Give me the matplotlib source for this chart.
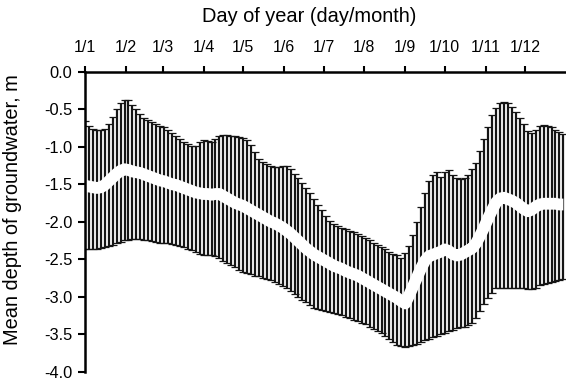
import numpy as np
import matplotlib
matplotlib.use("Agg")
import matplotlib.pyplot as plt
from matplotlib.ticker import FuncFormatter

plt.rcParams['font.family'] = ['Liberation Sans', 'DejaVu Sans']

# Day of year of each error bar (every 3rd day)
days = list(range(1, 365, 3))

upper = [-0.66, -0.72, -0.76, -0.78, -0.78, -0.76, -0.70, -0.60, -0.50, -0.42,
         -0.38, -0.38, -0.44, -0.50, -0.56, -0.61, -0.64, -0.67, -0.70, -0.72,
         -0.74, -0.78, -0.82, -0.86, -0.89, -0.93, -0.96, -0.99, -0.99, -0.94,
         -0.91, -0.92, -0.93, -0.90, -0.86, -0.84, -0.84, -0.85, -0.86, -0.87,
         -0.88, -0.91, -0.97, -1.07, -1.16, -1.20, -1.23, -1.25, -1.27, -1.27,
         -1.26, -1.26, -1.30, -1.36, -1.42, -1.48, -1.55, -1.62, -1.70, -1.78,
         -1.85, -1.92, -1.99, -2.03, -2.06, -2.08, -2.10, -2.12, -2.14, -2.16,
         -2.19, -2.22, -2.25, -2.28, -2.31, -2.34, -2.37, -2.40, -2.43, -2.45,
         -2.48, -2.42, -2.33, -2.18, -2.00, -1.80, -1.62, -1.46, -1.38, -1.33,
         -1.40, -1.34, -1.31, -1.37, -1.42, -1.43, -1.42, -1.38, -1.30, -1.21,
         -1.06, -0.90, -0.74, -0.57, -0.48, -0.42, -0.40, -0.42, -0.47, -0.54,
         -0.62, -0.70, -0.79, -0.82, -0.77, -0.72, -0.71, -0.72, -0.74, -0.77,
         -0.80, -0.83]

mean = [-1.52, -1.53, -1.54, -1.55, -1.54, -1.51, -1.46, -1.41, -1.36, -1.32,
        -1.30, -1.31, -1.33, -1.34, -1.35, -1.37, -1.39, -1.41, -1.43, -1.45,
        -1.46, -1.48, -1.50, -1.51, -1.53, -1.55, -1.57, -1.59, -1.61, -1.62,
        -1.63, -1.63, -1.64, -1.63, -1.63, -1.66, -1.69, -1.72, -1.75, -1.77,
        -1.79, -1.82, -1.85, -1.88, -1.91, -1.94, -1.97, -2.00, -2.02, -2.05,
        -2.08, -2.12, -2.16, -2.21, -2.26, -2.31, -2.36, -2.40, -2.44, -2.47,
        -2.50, -2.53, -2.56, -2.59, -2.61, -2.63, -2.66, -2.68, -2.70, -2.72,
        -2.75, -2.78, -2.81, -2.84, -2.87, -2.90, -2.93, -2.96, -2.99, -3.02,
        -3.06, -3.09, -2.98, -2.86, -2.74, -2.62, -2.52, -2.46, -2.44, -2.42,
        -2.40, -2.37, -2.39, -2.43, -2.45, -2.44, -2.41, -2.38, -2.35, -2.28,
        -2.18, -2.07, -1.95, -1.84, -1.74, -1.69, -1.68, -1.70, -1.72, -1.75,
        -1.79, -1.83, -1.86, -1.84, -1.80, -1.77, -1.76, -1.76, -1.76, -1.76,
        -1.77, -1.77]

lower = [-2.37, -2.37, -2.37, -2.36, -2.35, -2.34, -2.33, -2.31, -2.29, -2.27,
         -2.25, -2.24, -2.23, -2.23, -2.23, -2.24, -2.25, -2.26, -2.27, -2.28,
         -2.28, -2.29, -2.30, -2.31, -2.32, -2.34, -2.36, -2.38, -2.41, -2.43,
         -2.44, -2.44, -2.45, -2.46, -2.49, -2.52, -2.55, -2.58, -2.61, -2.64,
         -2.67, -2.69, -2.70, -2.72, -2.73, -2.75, -2.76, -2.78, -2.80, -2.83,
         -2.86, -2.89, -2.92, -2.96, -3.00, -3.04, -3.07, -3.11, -3.15, -3.17,
         -3.18, -3.19, -3.20, -3.22, -3.23, -3.25, -3.27, -3.29, -3.31, -3.33,
         -3.35, -3.37, -3.40, -3.43, -3.46, -3.49, -3.53, -3.57, -3.61, -3.64,
         -3.66, -3.67, -3.66, -3.65, -3.63, -3.61, -3.58, -3.56, -3.54, -3.52,
         -3.50, -3.48, -3.46, -3.44, -3.42, -3.41, -3.40, -3.38, -3.35, -3.28,
         -3.19, -3.10, -3.02, -2.95, -2.89, -2.88, -2.88, -2.88, -2.88, -2.88,
         -2.88, -2.89, -2.90, -2.90, -2.88, -2.85, -2.83, -2.82, -2.80, -2.79,
         -2.78, -2.77]

month_days = [1, 32, 60, 91, 121, 152, 182, 213, 244, 274, 305, 335]
month_labels = ["1/1", "1/2", "1/3", "1/4", "1/5", "1/6",
                "1/7", "1/8", "1/9", "1/10", "1/11", "1/12"]
y_ticks = [0.0, -0.5, -1.0, -1.5, -2.0, -2.5, -3.0, -3.5, -4.0]

fig = plt.figure(figsize=(5.66, 3.80), dpi=100)
ax = fig.add_axes([0.1502, 0.022, 0.8498, 0.789])

m = np.array(mean)
yerr = [m - np.array(lower), np.array(upper) - m]
ax.errorbar(days, mean, yerr=yerr, fmt='none', ecolor='#151515',
            elinewidth=1.6, capsize=2.9, capthick=0.9, zorder=2)
ax.plot(days, mean, color='white', lw=8.5, solid_capstyle='butt', zorder=3)

ax.set_xlim(1, 366)
ax.set_ylim(-4.0, 0.0)

for s in ['bottom', 'right']:
    ax.spines[s].set_visible(False)
for s in ['top', 'left']:
    ax.spines[s].set_linewidth(1.8)
    ax.spines[s].set_zorder(5)

ax.xaxis.set_ticks_position('top')
ax.xaxis.set_label_position('top')
ax.set_xticks(month_days)
ax.set_xticklabels(month_labels)
ax.set_yticks(y_ticks)
ax.yaxis.set_major_formatter(FuncFormatter(lambda v, p: f"{v:.1f}".replace('\u2212', '-')))
ax.tick_params(axis='x', direction='out', length=4, width=1.5, labelsize=11.5, pad=8)
ax.tick_params(axis='y', direction='out', length=5, width=1.5, labelsize=11.8, pad=4)

ax.set_xlabel("Day of year (day/month)", fontsize=14.4)
ax.xaxis.set_label_coords(0.467, 1.0 + 50 / 300)
ax.set_ylabel("Mean depth of groundwater, m", fontsize=14.4)
ax.yaxis.set_label_coords(-63 / 481, 0.54)

fig.savefig("out.png", dpi=100)
